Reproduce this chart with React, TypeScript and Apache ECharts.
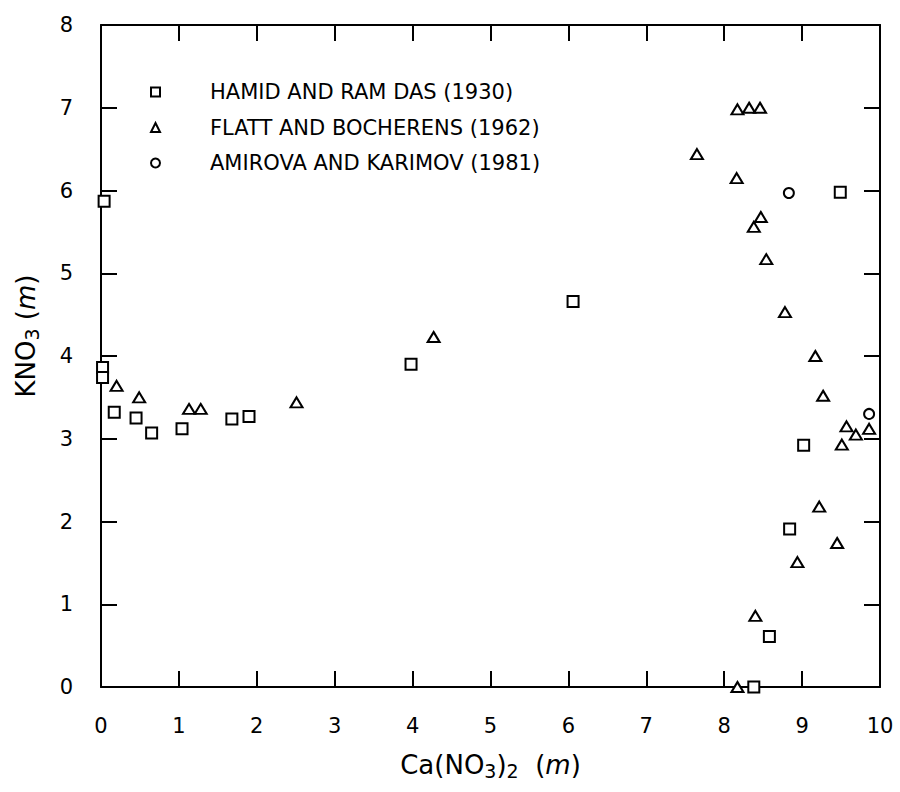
import React, { useEffect, useRef } from "react";
import * as echarts from "echarts";

const FONT = "DejaVu Sans";

const seriesNames = [
  "HAMID AND RAM DAS (1930)",
  "FLATT AND BOCHERENS (1962)",
  "AMIROVA AND KARIMOV (1981)",
];

const hamidX = [0.04, 0.02, 0.02, 0.17, 0.45, 0.65, 1.04, 1.68, 1.9, 3.98, 6.06, 9.49, 9.02, 8.84, 8.58, 8.38];
const hamidY = [5.87, 3.86, 3.74, 3.32, 3.25, 3.07, 3.12, 3.24, 3.27, 3.9, 4.66, 5.98, 2.92, 1.91, 0.61, 0.0];

const flattX = [0.2, 0.49, 1.13, 1.28, 2.51, 4.27, 7.65, 8.17, 8.32, 8.46, 8.16, 8.47, 8.38, 8.54, 8.78, 9.17, 9.27, 9.86, 9.57, 9.69, 9.51, 9.22, 9.45, 8.94, 8.4, 8.17];
const flattY = [3.64, 3.5, 3.36, 3.36, 3.44, 4.23, 6.44, 6.98, 7.0, 7.0, 6.15, 5.68, 5.56, 5.17, 4.53, 4.0, 3.52, 3.12, 3.15, 3.05, 2.93, 2.18, 1.74, 1.51, 0.86, 0.0];

const amirovaX = [8.83, 9.86];
const amirovaY = [5.97, 3.3];

const xTicks = [0, 1, 2, 3, 4, 5, 6, 7, 8, 9, 10];
const yTicks = [0, 1, 2, 3, 4, 5, 6, 7, 8];

const zip = (xs: number[], ys: number[]) => xs.map((x, i) => [x, ys[i]]);

export default function App() {
  const ref = useRef<HTMLDivElement>(null);
  useEffect(() => {
    if (!ref.current) return;
    const chart = echarts.init(ref.current, null, { renderer: "svg" });
    const markerStyle = { color: "#fff", borderColor: "#000", borderWidth: 2, opacity: 1 };
    const axisLine = { show: true, onZero: false, lineStyle: { color: "#000", width: 2 } };
    const axisTick = { show: true, inside: true, length: 16, lineStyle: { color: "#000", width: 2 } };
    const xMin = xTicks[0];
    const xMax = xTicks[xTicks.length - 1];
    const yMin = yTicks[0];
    const yMax = yTicks[yTicks.length - 1];
    const rich = {
      a: { fontFamily: FONT, fontSize: 26, color: "#000" },
      s: { fontFamily: FONT, fontSize: 19, color: "#000", padding: [12, 0, 0, 0] },
      i: { fontFamily: FONT, fontSize: 26, fontStyle: "italic", color: "#000" },
    };
    chart.setOption({
      animation: false,
      backgroundColor: "#fff",
      grid: { left: 101, right: 20, top: 25, bottom: 105, containLabel: false },
      legend: {
        orient: "vertical",
        left: 150,
        top: 81,
        padding: 0,
        itemWidth: 9,
        itemHeight: 9,
        itemGap: 13.5,
        data: seriesNames,
        itemStyle: { color: "#fff", borderColor: "#000", borderWidth: 2, opacity: 1 },
        textStyle: {
          fontFamily: FONT,
          fontSize: 21,
          lineHeight: 22,
          color: "#000",
          padding: [0, 0, 0, 45],
        },
      },
      xAxis: [
        {
          type: "value",
          min: xMin,
          max: xMax,
          interval: 1,
          position: "bottom",
          axisLine,
          axisTick,
          splitLine: { show: false },
          axisLabel: { margin: 28, fontFamily: FONT, fontSize: 21, color: "#000" },
          name: "{a|Ca(NO}{s|3}{a|)}{s|2}{a|  (}{i|m}{a|)}",
          nameLocation: "middle",
          nameGap: 62,
          nameTextStyle: { rich },
        },
        {
          type: "value",
          min: xMin,
          max: xMax,
          interval: 1,
          position: "top",
          axisLine,
          axisTick,
          splitLine: { show: false },
          axisLabel: { show: false },
        },
      ],
      yAxis: [
        {
          type: "value",
          min: yMin,
          max: yMax,
          interval: 1,
          position: "left",
          axisLine,
          axisTick,
          splitLine: { show: false },
          axisLabel: { margin: 28, fontFamily: FONT, fontSize: 21, color: "#000" },
          name: "{a|KNO}{s|3}{a| (}{i|m}{a|)}",
          nameLocation: "middle",
          nameRotate: 90,
          nameGap: 60,
          nameTextStyle: { rich, padding: [0, 0, 0, 40] },
        },
        {
          type: "value",
          min: yMin,
          max: yMax,
          interval: 1,
          position: "right",
          axisLine,
          axisTick,
          splitLine: { show: false },
          axisLabel: { show: false },
        },
      ],
      series: [
        {
          name: seriesNames[0],
          type: "scatter",
          symbol: "rect",
          symbolSize: 11,
          itemStyle: markerStyle,
          data: zip(hamidX, hamidY),
        },
        {
          name: seriesNames[1],
          type: "scatter",
          symbol: "triangle",
          symbolSize: [12, 10],
          itemStyle: markerStyle,
          data: zip(flattX, flattY),
        },
        {
          name: seriesNames[2],
          type: "scatter",
          symbol: "circle",
          symbolSize: 10,
          itemStyle: markerStyle,
          data: zip(amirovaX, amirovaY),
        },
      ],
    });
    return () => chart.dispose();
  }, []);
  return <div ref={ref} style={{ width: 900, height: 792, position: "absolute", left: 0, top: 0 }} />;
}
